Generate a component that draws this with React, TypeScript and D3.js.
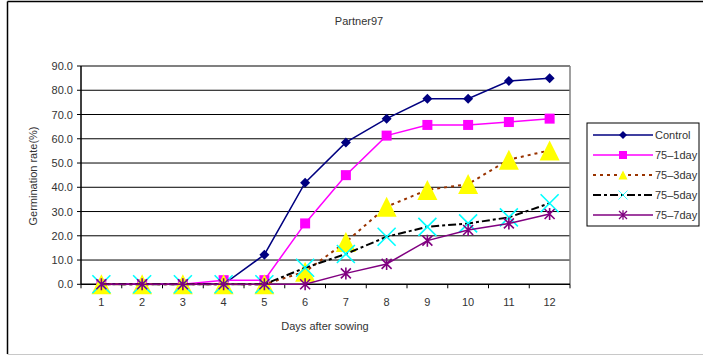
import React from "react";
import * as d3 from "d3";

const days = ["1", "2", "3", "4", "5", "6", "7", "8", "9", "10", "11", "12"];
const control = [0, 0, 0, 0, 12.2, 41.9, 58.5, 68.3, 76.5, 76.5, 83.8, 84.9];
const d1 = [0, 0, 0, 1.7, 1.7, 25.1, 45.0, 61.3, 65.7, 65.7, 66.9, 68.3];
const d3v = [0, 0, 0, 0, 0, 5.2, 17.4, 32.0, 38.9, 41.3, 51.4, 55.2];
const d5 = [0, 0, 0, 0, 0, 6.8, 12.5, 19.6, 23.7, 25.1, 27.6, 33.4];
const d7 = [0, 0, 0, 0, 0, 0, 4.5, 8.4, 18.0, 22.4, 25.1, 29.0];
const yTicks = [0, 10, 20, 30, 40, 50, 60, 70, 80, 90];
const seriesNames = ["Control", "75\u20131day", "75\u20133day", "75\u20135day", "75\u20137day"];

const FONT = "'Liberation Sans', Arial, sans-serif";

type Style = { color: string; width: number; dash?: string; marker: string; mcolor: string };
const styles: Style[] = [
  { color: "#000080", width: 1.5, marker: "diamond", mcolor: "#000080" },
  { color: "#FF00FF", width: 1.5, marker: "square", mcolor: "#FF00FF" },
  { color: "#993300", width: 2, dash: "3,4", marker: "triangle", mcolor: "#FFFF00" },
  { color: "#000000", width: 2, dash: "8,3,3,3", marker: "x", mcolor: "#00FFFF" },
  { color: "#800080", width: 1.5, marker: "star", mcolor: "#800080" },
];

function Marker({ type, x, y, color }: { type: string; x: number; y: number; color: string }) {
  if (type === "diamond") {
    const s = 5;
    return <path d={`M${x},${y - s}L${x + s},${y}L${x},${y + s}L${x - s},${y}Z`} fill={color} />;
  }
  if (type === "square") {
    const s = 5;
    return <rect x={x - s} y={y - s} width={2 * s} height={2 * s} fill={color} />;
  }
  if (type === "triangle") {
    const s = 10;
    return <path d={`M${x},${y - s}L${x + s},${y + s}L${x - s},${y + s}Z`} fill={color} />;
  }
  if (type === "x") {
    const s = 9;
    return (
      <path
        d={`M${x - s},${y - s}L${x + s},${y + s}M${x - s},${y + s}L${x + s},${y - s}`}
        stroke={color}
        strokeWidth={1.6}
      />
    );
  }
  const s = 5;
  return (
    <path
      d={`M${x - s},${y - s}L${x + s},${y + s}M${x - s},${y + s}L${x + s},${y - s}M${x},${y - s - 1}L${x},${y + s + 1}`}
      stroke={color}
      strokeWidth={1.6}
    />
  );
}

export default function App() {
  const W = 703, H = 356;
  const left = 81, right = 570, top = 66, bottom = 284.3;
  const x = d3.scaleBand<string>().domain(days).range([left, right]).padding(0);
  const y = d3.scaleLinear().domain([0, 90]).range([bottom, top]);
  const cx = (d: string) => (x(d) as number) + x.bandwidth() / 2;
  const allSeries = [control, d1, d3v, d5, d7];
  const line = d3
    .line<number>()
    .x((_, i) => cx(days[i]))
    .y((v) => y(v));

  const legX = 587, legY = 123;
  return (
    <svg
      width={W}
      height={H}
      style={{ position: "absolute", left: 0, top: 0, background: "#fff" }}
      fontFamily={FONT}
    >
      <rect x={0} y={0} width={W} height={H} fill="#fff" />
      {/* outer frame */}
      <line x1={7.5} y1={1.5} x2={W} y2={1.5} stroke="#000" strokeWidth={1.5} />
      <line x1={7.5} y1={1.5} x2={7.5} y2={354} stroke="#000" strokeWidth={1.5} />
      <line x1={7.5} y1={354.5} x2={W} y2={354.5} stroke="#c8c8c8" strokeWidth={1} />

      <text x={359} y={25} textAnchor="middle" fontSize={11} fill="#333">Partner97</text>

      {/* grid */}
      {yTicks.map((t) => (
        <g key={t}>
          {t > 0 && <line x1={left} x2={right} y1={y(t)} y2={y(t)} stroke="#000" strokeWidth={1} />}
          <line x1={left - 4} x2={left} y1={y(t)} y2={y(t)} stroke="#000" strokeWidth={1} />
          <text x={73} y={y(t) + 4} textAnchor="end" fontSize={11} fill="#333">
            {t.toFixed(1)}
          </text>
        </g>
      ))}
      {/* plot border */}
      <line x1={right} x2={right} y1={top} y2={bottom} stroke="#808080" strokeWidth={1.5} />
      <line x1={left} x2={right} y1={top} y2={top} stroke="#808080" strokeWidth={1.5} />
      <line x1={left} x2={left} y1={top} y2={bottom} stroke="#000" strokeWidth={1.5} />
      <line x1={left} x2={right} y1={bottom} y2={bottom} stroke="#000" strokeWidth={1.5} />
      {days.map((d) => (
        <line key={"tk" + d} x1={x(d) as number} x2={x(d) as number} y1={bottom} y2={bottom + 4} stroke="#000" />
      ))}
      <line x1={right} x2={right} y1={bottom} y2={bottom + 4} stroke="#000" />
      {days.map((d) => (
        <text key={"xl" + d} x={cx(d)} y={306} textAnchor="middle" fontSize={11} fill="#333">
          {d}
        </text>
      ))}
      <text x={325} y={330} textAnchor="middle" fontSize={11} fill="#333">Days after sowing</text>
      <text
        transform={`translate(37,176) rotate(-90)`}
        textAnchor="middle"
        fontSize={11}
        fill="#333"
      >
        Germination rate(%)
      </text>

      {/* series */}
      {allSeries.map((s, si) => (
        <g key={"s" + si}>
          <path
            d={line(s) as string}
            fill="none"
            stroke={styles[si].color}
            strokeWidth={styles[si].width}
            strokeDasharray={styles[si].dash}
          />
          {s.map((v, i) => (
            <Marker key={i} type={styles[si].marker} x={cx(days[i])} y={y(v)} color={styles[si].mcolor} />
          ))}
        </g>
      ))}

      {/* legend */}
      <rect x={legX} y={legY} width={112} height={103} fill="#fff" stroke="#000" strokeWidth={1} />
      {seriesNames.map((n, i) => {
        const ly = legY + 12 + i * 20;
        const st = styles[i];
        return (
          <g key={n}>
            <line
              x1={593}
              x2={653}
              y1={ly}
              y2={ly}
              stroke={st.color}
              strokeWidth={st.width}
              strokeDasharray={st.dash}
            />
            <g transform={`translate(${623},${ly}) scale(${st.marker === "triangle" ? 0.45 : st.marker === "x" ? 0.5 : 0.8}) translate(${-623},${-ly})`}>
              <Marker type={st.marker} x={623} y={ly} color={st.mcolor} />
            </g>
            <text x={655} y={ly + 4} fontSize={11} fill="#333">{n}</text>
          </g>
        );
      })}
    </svg>
  );
}
